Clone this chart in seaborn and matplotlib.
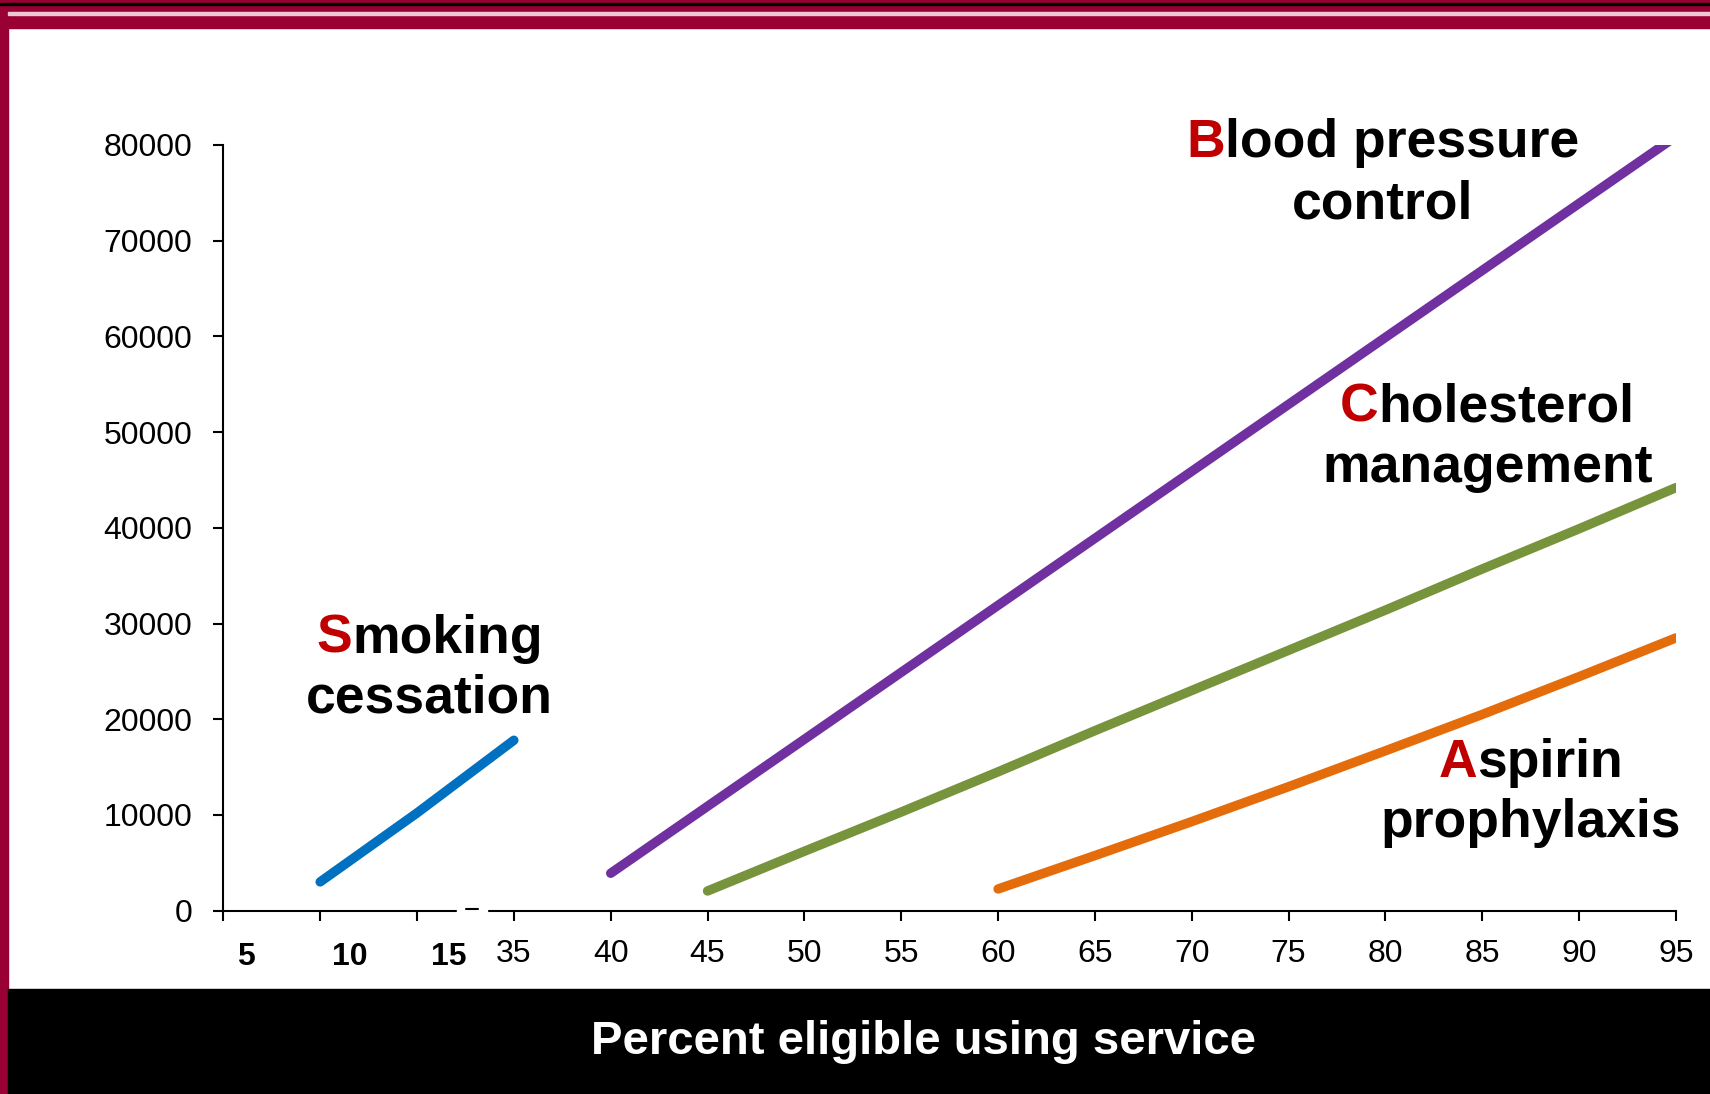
import numpy as np
import pandas as pd
import matplotlib
matplotlib.use("Agg")
import matplotlib.pyplot as plt
from matplotlib.patches import Rectangle
from matplotlib.transforms import ScaledTranslation
import seaborn as sns

# ── Data ──────────────────────────────────────────────────────────────────────
TICK_PCT = [5, 10, 15, 35, 40, 45, 50, 55, 60, 65, 70, 75, 80, 85, 90, 95]
BOLD_TICKS = [5, 10, 15]          # hand-placed labels left of the axis break
Y_TICKS = [0, 10000, 20000, 30000, 40000, 50000, 60000, 70000, 80000]

SMOKING_PCT = [10, 15, 20]
SMOKING_VAL = [3000, 10200, 17800]

BP_PCT = [40, 45, 50, 55, 60, 65, 70, 75, 80, 85, 90, 95]
BP_VAL = [3900, 10900, 17900, 24900, 31900, 38900, 45900, 52900, 59900, 66900, 73900, 80900]

CHOL_PCT = [45, 50, 55, 60, 65, 70, 75, 80, 85, 90, 95]
CHOL_VAL = [2050, 6200, 10300, 14500, 18800, 23000, 27200, 31400, 35700, 39900, 44200]

ASP_PCT = [60, 65, 70, 75, 80, 85, 90, 95]
ASP_VAL = [2260, 5750, 9300, 12950, 16700, 20500, 24450, 28500]

# ── Palette ───────────────────────────────────────────────────────────────────
MAROON = "#990033"
RED    = "#C00000"
BLUE   = "#0070C0"
PURPLE = "#7030A0"
GREEN  = "#77933C"
ORANGE = "#E46C0A"

W, H, DPI = 1710, 1094, 100


def to_pos(pct):
    """Broken x axis: 5-20 on the left, 35-95 on the right, 5 % per unit."""
    pct = np.asarray(pct, dtype=float)
    return np.where(pct <= 20, (pct - 5) / 5, 3 + (pct - 35) / 5)


sns.set_style("white")
plt.rcParams["font.family"] = ["Liberation Sans", "DejaVu Sans"]

fig = plt.figure(figsize=(W / DPI, H / DPI), dpi=DPI)
fig.patch.set_facecolor("white")

# slide frame
fig.patches.extend([
    Rectangle((0, 1 - 28 / H), 1, 28 / H, transform=fig.transFigure, color=MAROON, zorder=0),
    Rectangle((0, 1 - 5 / H), 1, 2 / H, transform=fig.transFigure, color="black", zorder=1),
    Rectangle((8 / W, 1 - 15 / H), 1, 3 / H, transform=fig.transFigure, color="#EBC9D2", zorder=1),
    Rectangle((0, 0), 8 / W, 1, transform=fig.transFigure, color=MAROON, zorder=0),
    Rectangle((8 / W, 0), 1, 105 / H, transform=fig.transFigure, color="black", zorder=0),
])

ax = fig.add_axes([223.3 / W, 183.4 / H, (1676 - 223.3) / W, (910.6 - 145) / H])
ax.set_facecolor("none")

series = [
    (SMOKING_PCT, SMOKING_VAL, BLUE),
    (BP_PCT, BP_VAL, PURPLE),
    (CHOL_PCT, CHOL_VAL, GREEN),
    (ASP_PCT, ASP_VAL, ORANGE),
]
for pct, val, col in series:
    df = pd.DataFrame({"x": to_pos(pct), "y": val})
    sns.lineplot(data=df, x="x", y="y", color=col, lw=6.8, ax=ax,
                 solid_capstyle="round", sort=False)

ax.set_xlim(0, 15)
ax.set_ylim(0, 80000)
ax.set_xlabel("")
ax.set_ylabel("")
for s in ["top", "right"]:
    ax.spines[s].set_visible(False)
for s in ["left", "bottom"]:
    ax.spines[s].set_linewidth(1.5)
    ax.spines[s].set_color("black")

ax.set_xticks(to_pos(TICK_PCT))
ax.set_xticklabels([str(t) for t in TICK_PCT])
ax.set_yticks(Y_TICKS)
ax.set_yticklabels([str(t) for t in Y_TICKS])
ax.tick_params(axis="both", direction="out", length=7.2, width=1.5,
               color="black", labelsize=23, labelcolor="black",
               bottom=True, left=True)
ax.tick_params(axis="x", pad=13)
ax.tick_params(axis="y", pad=15)

# left-hand labels were nudged by hand in the original
for lab, dx in zip(ax.get_xticklabels()[:len(BOLD_TICKS)], [0.23, 0.30, 0.32]):
    lab.set_fontweight("bold")
    lab.set_transform(lab.get_transform() + ScaledTranslation(dx, -0.03, fig.dpi_scale_trans))

# axis break mark between 15 and 35
ax.add_patch(Rectangle((2.41, -900), 0.31, 1800, color="white", clip_on=False, zorder=5))
ax.plot([2.51, 2.63], [200, 200], color="black", lw=1.5, clip_on=False, zorder=6)

# series labels: (lines, centre x, baselines)
LABELS = [
    (["Smoking", "cessation"], 2.13, [26920, 20650]),
    (["Blood pressure", "control"], 11.97, [78780, 72340]),
    (["Cholesterol", "management"], 13.05, [51090, 44820]),
    (["Aspirin", "prophylaxis"], 13.50, [13990, 7720]),
]
renderer = fig.canvas.get_renderer()
for lines, xc, ys in LABELS:
    for i, (line, y) in enumerate(zip(lines, ys)):
        t = ax.text(xc, y, line, ha="center", va="baseline", fontsize=38.5,
                    fontweight="bold", color="black", clip_on=False)
        if i == 0:
            bb = t.get_window_extent(renderer)
            cx = ax.transData.transform((xc, y))[0]
            t.set_text(line[1:])
            t.set_ha("right")
            t.set_transform(ax.transData + ScaledTranslation((bb.x1 - cx) / DPI, 0, fig.dpi_scale_trans))
            ax.text(xc, y, line[0], ha="left", va="baseline", fontsize=38.5,
                    fontweight="bold", color=RED, clip_on=False,
                    transform=ax.transData + ScaledTranslation((bb.x0 - cx) / DPI, 0, fig.dpi_scale_trans))

fig.text(923 / W, 1 - 1054.3 / H, "Percent eligible using service", ha="center",
         va="baseline", fontsize=34, fontweight="bold", color="white")

fig.savefig("out.png", dpi=DPI)
plt.close()
